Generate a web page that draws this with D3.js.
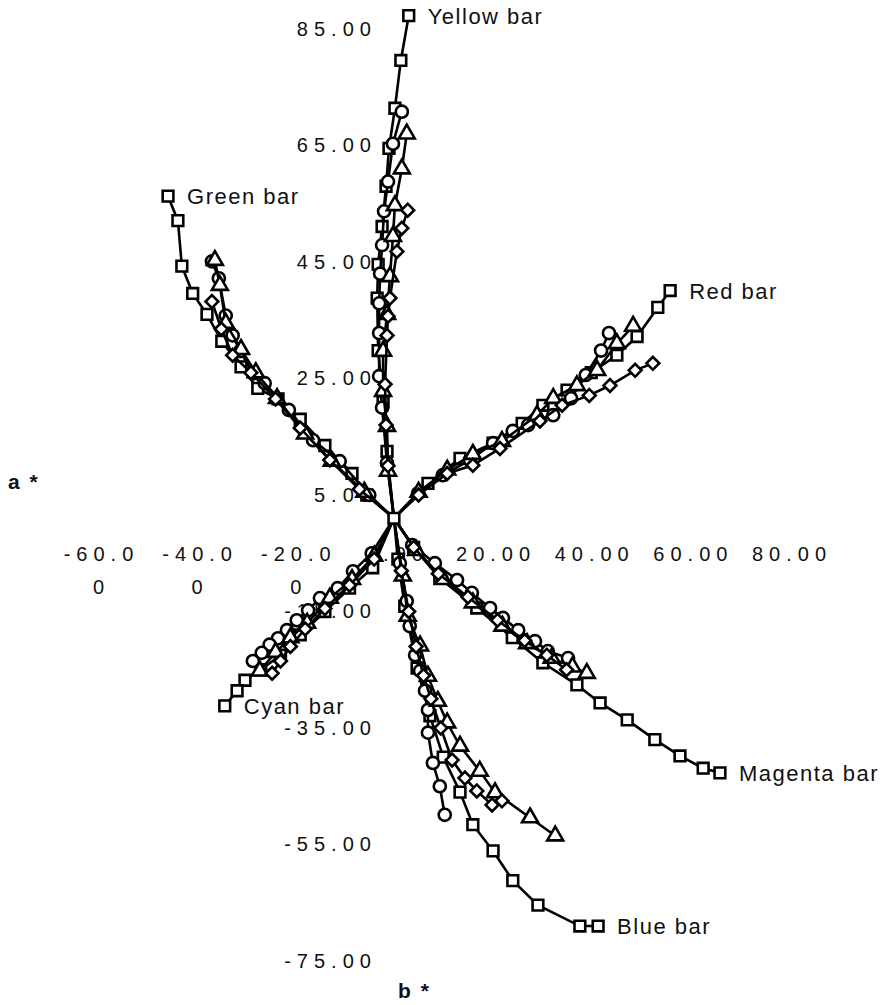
<!DOCTYPE html>
<html>
<head>
<meta charset="utf-8">
<script src="https://cdn.jsdelivr.net/npm/d3@7"></script>
<style>
  body { margin: 0; background: #fff; }
  text { font-family: "Liberation Sans", Arial, Helvetica, sans-serif; fill: #111; }
</style>
</head>
<body>
<svg id="chart" width="888" height="1005"></svg>
<script>
// axis ticks
var xTicks = [-60, -40, -20, 0, 20, 40, 60, 80];
var yTicks = [-75, -55, -35, -15, 5, 25, 45, 65, 85];
var barNames = ["Yellow bar", "Green bar", "Red bar", "Cyan bar", "Magenta bar", "Blue bar"];
var shapes = ["square", "circle", "triangle", "diamond"];

// [a*, b*] readings, from paper white outwards
var yellowSquare = [[0,1],[-1.4,12.5],[-2.2,21],[-3.2,29.8],[-3.4,38.8],[-3.2,44.6],[-2.4,51.1],[-1.6,58],[-1,64.5],[0.2,71.4],[1.4,79.6],[3,87.3]];
var yellowCircle = [[0,1],[-1.4,10.5],[-2.4,20],[-3,25.4],[-3,32.8],[-3,37.9],[-2.8,43],[-2.4,47.9],[-2,53.7],[-1.2,58.8],[-0.2,65.3],[1.6,70.8]];
var yellowTriangle = [[0,1],[-1.2,9.1],[-1.4,16.8],[-2.2,22.8],[-2.2,29.7],[-1.4,36],[-0.8,42.5],[-0.2,49.4],[0.2,54.7],[1.6,61],[2.6,67]];
var yellowDiamond = [[0,1],[-1.2,10],[-1.6,17],[-1.8,24],[-1.4,32.4],[-1.2,35.7],[-0.8,38.8],[0.6,46.8],[1.6,50.8],[2.8,53.9]];

var greenSquare = [[0,1],[-5.5,5],[-8.5,8.7],[-14,13.5],[-19,18],[-23.5,21.5],[-27.6,23.3],[-31,27],[-34.9,31.4],[-37.9,36],[-40.8,39.6],[-43,44.3],[-43.8,52.1],[-45.8,56.3]];
var greenCircle = [[0,1],[-5,5],[-11,10.8],[-16.4,14.4],[-21.3,19.6],[-26.2,24.2],[-28.6,25.9],[-31.2,29.7],[-32.7,32.4],[-34.1,35.8],[-35.5,42.2],[-36.9,45.1]];
var greenTriangle = [[0,1],[-6,5.5],[-12.6,10.8],[-18,15.5],[-23.7,21.6],[-28,26],[-31,30],[-34.1,34.5],[-35.3,41],[-36.3,45.3]];
var greenDiamond = [[0,1],[-7,6],[-13,11],[-19,16.5],[-24,21.5],[-29,26],[-32.7,29],[-35,33.5],[-36.9,38.2]];

var redSquare = [[0,1],[6.9,7],[13.4,11.3],[20.1,13.9],[26,17.3],[30.2,20.4],[35.1,23],[40,26],[45.2,29],[49.3,32.2],[53.5,37.2],[56,40.1]];
var redCircle = [[0,1],[4.9,5.3],[9.9,8.4],[15.4,11],[20.1,13.9],[24.1,16],[27.2,17],[32.3,18.7],[35.9,21.6],[38.9,25.6],[42,29.8],[43.6,32.8]];
var redTriangle = [[0,1],[5,5.5],[10.8,9.3],[16,12],[21.9,14.2],[29,18.7],[32.3,21.6],[37.1,23.8],[41.2,26.4],[45.2,31],[48.5,34]];
var redDiamond = [[0,1],[5,5],[10.8,8.7],[16,10.1],[21.5,13],[29.6,17.7],[34.1,20.4],[39.6,22.1],[43.8,23.8],[48.9,26.4],[52.5,27.6]];

var cyanSquare = [[0,1],[-4.3,-7.5],[-9,-11],[-14,-15],[-19,-19],[-23,-22.5],[-27,-25],[-30.2,-26.8],[-31.8,-28.6],[-34.3,-31.2]];
var cyanCircle = [[0,1],[-4.5,-5],[-8.3,-8.1],[-11.4,-11],[-15,-12.7],[-17.4,-14.8],[-19.7,-16.5],[-21.7,-18.2],[-23.5,-19.6],[-25.2,-20.7],[-26.8,-22.1],[-28.6,-23.5]];
var cyanTriangle = [[0,1],[-4,-5.5],[-8.5,-9.5],[-13,-12.7],[-17.6,-17],[-21,-19.5],[-24,-22],[-27.2,-25.2]];
var cyanDiamond = [[0,1],[-4,-6],[-9,-10.5],[-14,-14.5],[-18,-18],[-21,-21],[-23,-23.5],[-24.7,-25.6]];

var magentaSquare = [[0,1],[4,-4],[9.3,-9.3],[16.8,-14.4],[24,-19.5],[30.2,-23.8],[37.1,-27.6],[41.8,-30.7],[47.3,-33.6],[52.9,-37],[58,-39.8],[62.7,-41.9],[66.1,-42.7]];
var magentaCircle = [[0,1],[3.7,-3.6],[8.3,-6.7],[12.8,-9.6],[15.8,-11.8],[19.5,-14.4],[22.1,-16.1],[25.2,-18.2],[28.6,-20.1],[31.2,-21.8],[35.3,-23]];
var magentaTriangle = [[0,1],[4.5,-4.5],[10,-9.5],[16,-13.5],[22,-17.5],[27,-20.5],[32,-23],[36.2,-24.5],[39.1,-25.6]];
var magentaDiamond = [[0,1],[4,-4],[9,-8.5],[15,-12.5],[21,-16.5],[26.5,-20],[31,-22.5],[35,-25]];

var blueSquare = [[0,1],[0.8,-6],[2.2,-14.1],[4.7,-24.7],[7.3,-32.9],[10,-40],[13.4,-46],[16,-51.6],[20.1,-56.1],[24.1,-61.2],[29.2,-65.4],[37.7,-69],[41.4,-69]];
var blueCircle = [[0,1],[1.2,-6.7],[2.6,-13.2],[3.2,-17.5],[4.3,-22.5],[5.3,-25.2],[6.3,-28.6],[6.9,-31.9],[6.9,-35.8],[7.9,-41],[9.3,-45],[10.3,-49.9]];
var blueTriangle = [[0,1],[1.8,-8.9],[2.8,-15.8],[5.3,-20.9],[6.9,-26.1],[8.9,-30.4],[10.8,-34.1],[13.4,-38.1],[17.4,-42.4],[20.5,-46.1],[27.6,-50.4],[32.7,-53.5]];
var blueDiamond = [[0,1],[1.5,-8],[3,-15],[4.5,-21],[6,-26],[7.5,-30],[9.5,-35],[11.8,-40.5],[14.4,-43.6],[16.8,-45.8],[19.9,-48.2],[21.9,-47.5]];

var bars = [
  [yellowSquare, yellowCircle, yellowTriangle, yellowDiamond],
  [greenSquare, greenCircle, greenTriangle, greenDiamond],
  [redSquare, redCircle, redTriangle, redDiamond],
  [cyanSquare, cyanCircle, cyanTriangle, cyanDiamond],
  [magentaSquare, magentaCircle, magentaTriangle, magentaDiamond],
  [blueSquare, blueCircle, blueTriangle, blueDiamond]
];

var svg = d3.select("#chart");
svg.append("rect").attr("width", 888).attr("height", 1005).attr("fill", "#fff");

var x = d3.scaleLinear().domain([-60, 80]).range([98, 788.5]);
var y = d3.scaleLinear().domain([-75, 85]).range([961, 29]);
var fmt = function (d) { return d3.format(".2f")(d).replace("\u2212", "-"); };

// y axis (b*) - labels only, no lines
var yAxis = svg.append("g")
  .attr("transform", "translate(" + x(0) + ",0)")
  .call(d3.axisLeft(y).tickValues(yTicks).tickFormat(fmt).tickSize(0).tickPadding(17));
yAxis.select(".domain").remove();
yAxis.selectAll("text")
  .style("font-size", "20px")
  .style("letter-spacing", "6px")
  .attr("fill", "#111");

// x axis (a*) - long labels wrap onto a second line
var xAxis = svg.append("g")
  .attr("transform", "translate(0," + y(0) + ")")
  .call(d3.axisBottom(x).tickValues(xTicks).tickFormat(fmt).tickSize(0).tickPadding(23));
xAxis.select(".domain").remove();
xAxis.selectAll("text")
  .style("font-size", "20px")
  .style("letter-spacing", "6px")
  .attr("fill", "#111")
  .each(function () {
    var t = d3.select(this);
    var s = t.text();
    t.text(null).attr("dy", null);
    t.append("tspan").attr("x", 3).attr("dy", "0.71em").text(s.slice(0, 5));
    if (s.length > 5) {
      t.append("tspan").attr("x", 3).attr("dy", "33px").text(s.slice(5));
    }
  });

svg.append("text").attr("x", 8).attr("y", 489)
  .style("font-size", "21px").style("font-weight", "bold").style("letter-spacing", "2px")
  .text("a *");
svg.append("text").attr("x", 398).attr("y", 998)
  .style("font-size", "21px").style("font-weight", "bold").style("letter-spacing", "2px")
  .text("b *");

var line = d3.line()
  .x(function (d) { return x(d[0]); })
  .y(function (d) { return y(d[1]); });

var symbols = {
  square: d3.symbol().type(d3.symbolSquare).size(115),
  circle: d3.symbol().type(d3.symbolCircle).size(115),
  triangle: d3.symbol().type(d3.symbolTriangle).size(110),
  diamond: d3.symbol().type(d3.symbolSquare).size(82)
};

bars.forEach(function (group, bi) {
  var g = svg.append("g");
  group.forEach(function (pts, si) {
    var shape = shapes[si];
    g.append("path")
      .datum(pts)
      .attr("d", line)
      .attr("fill", "none")
      .attr("stroke", "#000")
      .attr("stroke-width", 2.6);
    g.selectAll(null)
      .data(pts.slice(1))
      .enter()
      .append("path")
      .attr("d", symbols[shape])
      .attr("transform", function (d) {
        return "translate(" + x(d[0]) + "," + y(d[1]) + ")" + (shape === "diamond" ? " rotate(45)" : "");
      })
      .attr("fill", "#fff")
      .attr("stroke", "#000")
      .attr("stroke-width", 2.6);
  });
  // bar name beside the last square
  var end = group[0][group[0].length - 1];
  g.append("text")
    .attr("x", x(end[0]) + 19)
    .attr("y", y(end[1]) + 8)
    .style("font-size", "22px")
    .style("letter-spacing", "1.5px")
    .text(barNames[bi]);
});

// paper white point at the centre
svg.append("path")
  .attr("d", symbols.square)
  .attr("transform", "translate(" + x(yellowSquare[0][0]) + "," + y(yellowSquare[0][1]) + ")")
  .attr("fill", "#fff").attr("stroke", "#000").attr("stroke-width", 2.6);
</script>
</body>
</html>
